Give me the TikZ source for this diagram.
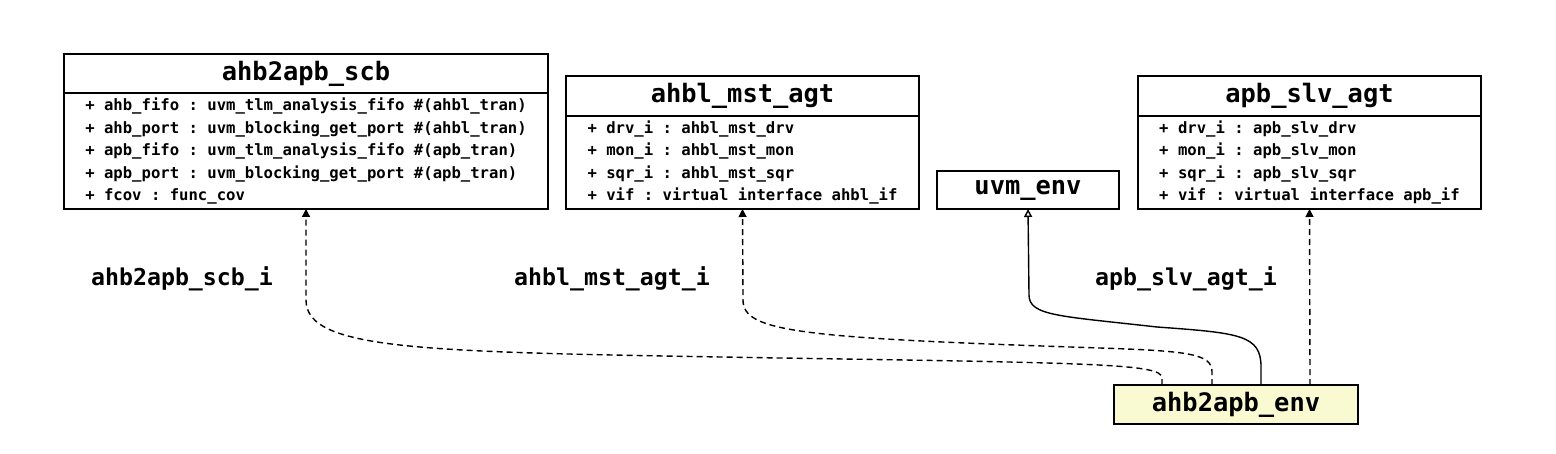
\documentclass[tikz,border=0pt]{standalone}
\usepackage{fontspec}
\setmonofont{DejaVu Sans Mono}
\usepackage{tikz}
\usetikzlibrary{positioning,arrows.meta}
\definecolor{envfill}{HTML}{FAFAD2}

\begin{document}
\begin{tikzpicture}[x=0.5pt,y=-0.5pt,line width=0.9pt,
   head/.style={draw,inner sep=0pt,outer sep=0pt,font=\ttfamily\bfseries\fontsize{12.7}{15}\selectfont},
   attrs/.style={draw,inner sep=0pt,outer sep=0pt,align=left,font=\ttfamily\bfseries\fontsize{7.8}{11.25}\selectfont},
   lbl/.style={font=\ttfamily\bfseries\fontsize{11.6}{14}\selectfont},
   dep/.style={-{Triangle[length=4pt,width=4pt]},dash pattern=on 3pt off 2pt,line width=0.7pt},
   inh/.style={-{Triangle[open,length=4pt,width=4pt]},line width=0.7pt}]
  \useasboundingbox (0,0) rectangle (1556,454);
  % classes
  \node[head,minimum width=242pt,minimum height=19.5pt] (scb) at (306,73.5) {ahb2apb\_scb};
  \node[attrs,minimum width=242pt,minimum height=58pt,below=0pt of scb] (scbattr) {+ ahb\_fifo : uvm\_tlm\_analysis\_fifo \#(ahbl\_tran)\\
     + ahb\_port : uvm\_blocking\_get\_port \#(ahbl\_tran)\\
     + apb\_fifo : uvm\_tlm\_analysis\_fifo \#(apb\_tran)\\
     + apb\_port : uvm\_blocking\_get\_port \#(apb\_tran)\\
     + fcov : func\_cov};
  \node[head,minimum width=176.5pt,minimum height=20pt] (mst) at (742.5,96) {ahbl\_mst\_agt};
  \node[attrs,minimum width=176.5pt,minimum height=46.5pt,below=0pt of mst] (mstattr) {+ drv\_i : ahbl\_mst\_drv\\
     + mon\_i : ahbl\_mst\_mon\\
     + sqr\_i : ahbl\_mst\_sqr\\
     + vif : virtual interface ahbl\_if};
  \node[head,minimum width=91pt,minimum height=19pt] (uvmenv) at (1028,190) {uvm\_env};
  \node[head,minimum width=171.5pt,minimum height=20pt] (slv) at (1309.5,96) {apb\_slv\_agt};
  \node[attrs,minimum width=171.5pt,minimum height=46.5pt,below=0pt of slv] (slvattr) {+ drv\_i : apb\_slv\_drv\\
     + mon\_i : apb\_slv\_mon\\
     + sqr\_i : apb\_slv\_sqr\\
     + vif : virtual interface apb\_if};
  \node[head,fill=envfill,minimum width=122pt,minimum height=19.5pt] (env) at (1236,404.5) {ahb2apb\_env};
  % member names
  \node[lbl] (scblbl) at (182,279) {ahb2apb\_scb\_i};
  \node[lbl] (mstlbl) at (612,279) {ahbl\_mst\_agt\_i};
  \node[lbl] (slvlbl) at (1186,279) {apb\_slv\_agt\_i};
  % connectors
  \draw[dep] ([xshift=-37pt]env.north) -- (1162,378) .. controls (1162,364) and (1100,363) .. (780,358)
     .. controls (430,352) and (306,352) .. (306,300) -- (scbattr.south);
  \draw[dep] ([xshift=-12pt]env.north) -- (1212,372) .. controls (1212,354) and (1190,351) .. (1100,348)
     .. controls (800,338) and (743,332) .. (743,300) -- (mstattr.south);
  \draw[inh] ([xshift=12.5pt]env.north) -- (1261,367) .. controls (1261,335) and (1240,333) .. (1157,327)
     .. controls (1060,316) and (1029,316) .. (1029,295) -- (uvmenv.south);
  \draw[dep] ([xshift=37pt]env.north) -- (slvattr.south);
\end{tikzpicture}
\end{document}
